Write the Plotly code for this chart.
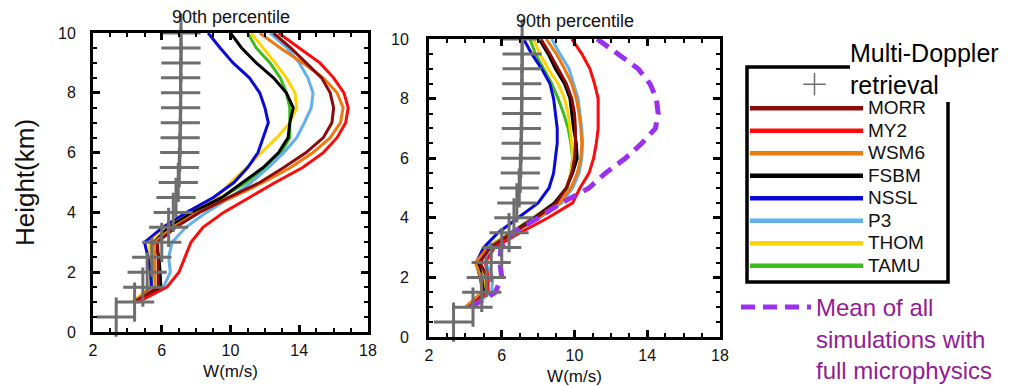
import plotly.graph_objects as go

# ---------------- data ----------------
heights_obs = [0.5, 1.0, 1.5, 2.0, 2.5, 3.0, 3.5, 4.0, 4.5, 5.0,
               5.5, 6.0, 6.5, 7.0, 7.5, 8.0, 8.5, 9.0, 9.5, 10.0]
w_obs = [3.35, 4.42, 4.9, 5.15, 5.42, 6.0, 6.4, 6.67, 6.83, 6.96,
         7.02, 7.05, 7.07, 7.08, 7.1, 7.1, 7.1, 7.12, 7.12, 7.12]

heights_sim = [1.0, 1.5, 2.0, 2.5, 3.0, 3.5, 4.0, 4.5, 5.0, 5.5,
               6.0, 6.5, 7.0, 7.5, 8.0, 8.5, 9.0, 9.5, 10.0]

scheme_names = ["MORR", "MY2", "WSM6", "FSBM", "NSSL", "P3", "THOM", "TAMU"]

# left panel
left_MORR = [4.4, 5.8, 5.8, 5.8, 5.75, 6.8, 8.2, 9.9, 11.7, 13.1, 14.4, 15.4, 15.9, 16.0, 15.8, 15.3, 14.4, 13.5, 12.5]
left_MY2 = [4.6, 6.3, 7.0, 7.35, 7.7, 8.4, 9.6, 11.1, 12.6, 14.2, 15.4, 16.2, 16.7, 16.85, 16.6, 16.0, 15.2, 14.0, 12.8]
left_WSM6 = [4.3, 5.6, 5.6, 5.6, 5.6, 6.65, 8.1, 10.1, 11.9, 13.5, 14.8, 15.8, 16.4, 16.55, 16.2, 15.4, 14.2, 12.9, 11.7]
left_FSBM = [4.4, 5.95, 5.9, 5.85, 5.55, 6.4, 7.8, 9.5, 10.7, 11.9, 12.8, 13.35, 13.45, 13.65, 13.25, 12.5, 11.5, 10.65, 10.0]
left_NSSL = [4.5, 5.4, 5.35, 5.2, 5.0, 6.05, 7.45, 9.0, 10.2, 11.0, 11.6, 11.9, 12.2, 12.0, 11.7, 11.1, 10.15, 9.4, 8.7]
left_P3 = [4.5, 6.1, 6.5, 6.4, 6.6, 7.4, 8.6, 10.0, 11.2, 12.2, 13.1, 13.85, 14.3, 14.7, 14.8, 14.5, 14.0, 13.3, 12.3]
left_THOM = [4.3, 5.3, 5.35, 5.3, 5.3, 6.25, 7.6, 9.2, 10.0, 10.95, 11.8, 12.7, 13.45, 13.85, 13.75, 13.25, 12.6, 11.9, 11.2]
left_TAMU = [4.4, 5.4, 5.45, 5.45, 5.4, 6.35, 7.9, 9.5, 10.9, 12.1, 12.95, 13.45, 13.45, 13.45, 13.25, 12.9, 12.3, 11.5, 11.0]

# right panel
right_MORR = [4.2, 5.2, 5.2, 4.8, 5.35, 6.6, 7.9, 9.0, 9.55, 9.85, 10.0, 10.05, 10.05, 10.0, 9.85, 9.55, 9.1, 8.65, 8.15]
right_MY2 = [4.25, 5.25, 5.25, 5.1, 5.6, 7.0, 8.55, 9.9, 10.3, 10.8, 11.05, 11.2, 11.3, 11.3, 11.3, 11.1, 10.85, 10.4, 9.85]
right_WSM6 = [4.0, 4.9, 4.85, 4.55, 5.25, 6.65, 8.0, 9.2, 9.8, 10.15, 10.35, 10.4, 10.35, 10.25, 10.1, 9.85, 9.45, 9.0, 8.45]
right_FSBM = [4.2, 5.0, 4.9, 4.7, 5.3, 6.55, 7.8, 8.9, 9.55, 9.9, 10.15, 10.1, 9.95, 9.85, 9.75, 9.45, 8.95, 8.55, 8.05]
right_NSSL = [4.2, 5.0, 4.8, 4.6, 5.0, 5.8, 6.9, 8.0, 8.6, 8.85, 8.95, 9.05, 9.05, 8.95, 8.85, 8.65, 8.2, 7.65, 7.2]
right_P3 = [4.3, 5.45, 5.5, 5.1, 5.3, 6.7, 8.1, 9.3, 9.9, 10.25, 10.4, 10.45, 10.4, 10.3, 10.2, 9.95, 9.7, 9.2, 8.75]
right_THOM = [4.2, 5.1, 5.0, 4.7, 5.2, 6.5, 7.7, 8.9, 9.55, 9.8, 9.9, 9.85, 9.75, 9.65, 9.45, 9.1, 8.55, 8.1, 7.75]
right_TAMU = [4.2, 5.1, 5.05, 4.75, 5.2, 6.5, 7.7, 8.9, 9.6, 9.8, 9.9, 9.8, 9.65, 9.4, 9.1, 8.75, 8.3, 7.85, 7.55]
right_mean = [4.3, 5.65, 6.0, 5.9, 5.95, 6.6, 8.0, 9.3, 10.8, 11.7, 12.8, 13.7, 14.45, 14.6, 14.5, 14.15, 13.5, 12.4, 11.25]

x_ticks = [2, 6, 10, 14, 18]
y_ticks = [0, 2, 4, 6, 8, 10]

# ---------------- styles ----------------
colors = {"MORR": "#8b0a0a", "MY2": "#ff0a0a", "WSM6": "#ee7a0e", "FSBM": "#000000",
          "NSSL": "#0a0ad8", "P3": "#62b0ec", "THOM": "#ffd200", "TAMU": "#3cbd1c"}
obs_color = "#6e6e6e"
mean_color = "#9b30f0"
mean_text_color = "#951a95"
FONT = "Liberation Sans, Arial, Helvetica, sans-serif"

left = {"MORR": left_MORR, "MY2": left_MY2, "WSM6": left_WSM6, "FSBM": left_FSBM,
        "NSSL": left_NSSL, "P3": left_P3, "THOM": left_THOM, "TAMU": left_TAMU}
right = {"MORR": right_MORR, "MY2": right_MY2, "WSM6": right_WSM6, "FSBM": right_FSBM,
         "NSSL": right_NSSL, "P3": right_P3, "THOM": right_THOM, "TAMU": right_TAMU}

fig = go.Figure()

# legend-only sample for the retrieval
fig.add_trace(go.Scatter(x=[None], y=[None], mode="markers", name="Multi-Doppler<br>retrieval",
                         marker=dict(symbol="cross-thin", size=30, line=dict(width=1.5, color=obs_color)),
                         legend="legend3", showlegend=True))

draw_order = ["TAMU", "THOM", "P3", "NSSL", "FSBM", "WSM6", "MORR", "MY2"]
for name in draw_order:
    fig.add_trace(go.Scatter(x=left[name], y=heights_sim, mode="lines", name=name,
                             line=dict(color=colors[name], width=3),
                             xaxis="x", yaxis="y", showlegend=False))
for name in draw_order:
    fig.add_trace(go.Scatter(x=right[name], y=heights_sim, mode="lines", name=name,
                             line=dict(color=colors[name], width=3),
                             xaxis="x2", yaxis="y2", showlegend=False))

# legend entries in the published order
for name in scheme_names:
    fig.add_trace(go.Scatter(x=[None], y=[None], mode="lines",
                             name=f'<span style="font-size:19px">{name}</span>',
                             line=dict(color=colors[name], width=4.5), legend="legend"))

fig.add_trace(go.Scatter(x=right_mean, y=heights_sim, mode="lines",
                         name="Mean of all<br>simulations with<br>full microphysics",
                         line=dict(color=mean_color, width=5, dash="14px,8px"),
                         xaxis="x2", yaxis="y2", legend="legend2"))

for xa, ya in [("x", "y"), ("x2", "y2")]:
    fig.add_trace(go.Scatter(x=w_obs, y=heights_obs, mode="markers", name="Multi-Doppler retrieval",
                             marker=dict(symbol="cross-thin", size=28,
                                         line=dict(width=3, color=obs_color)),
                             cliponaxis=False, xaxis=xa, yaxis=ya, showlegend=False))

W, H = 1023, 386

def xax(x0, x1):
    return dict(domain=[x0 / W, x1 / W], range=[2, 18], tickvals=x_ticks, automargin=False,
                ticks="inside", ticklen=7, tickwidth=3, tickcolor="black",
                minor=dict(dtick=1, tick0=2, ticks="inside", ticklen=4, tickwidth=1.5, tickcolor="black"),
                showline=True, linewidth=3, linecolor="black", mirror="ticks",
                showgrid=False, zeroline=False, ticklabelstandoff=2,
                tickfont=dict(family=FONT, size=16, color="#111"),
                title=dict(text="W(m/s)", font=dict(family=FONT, size=17, color="#111"), standoff=7))

def yax(y0, y1, anchor):
    return dict(domain=[1 - y1 / H, 1 - y0 / H], range=[0, 10], tickvals=y_ticks, anchor=anchor,
                automargin=False,
                ticks="inside", ticklen=7, tickwidth=3, tickcolor="black",
                minor=dict(dtick=0.5, tick0=0, ticks="inside", ticklen=4, tickwidth=1.5, tickcolor="black"),
                showline=True, linewidth=3, linecolor="black", mirror="ticks",
                showgrid=False, zeroline=False, ticklabelstandoff=11,
                tickfont=dict(family=FONT, size=16, color="#111"))

ya1 = yax(33, 332, "x")
ya1["title"] = dict(text="Height(km)", font=dict(family=FONT, size=26, color="#111"), standoff=16)
ya2 = yax(39, 337, "x2")
ya2["ticklabelstandoff"] = 14

fig.update_layout(
    width=W, height=H, margin=dict(l=0, r=0, t=0, b=0, autoexpand=False),
    paper_bgcolor="white", plot_bgcolor="white",
    xaxis=dict(xax(93, 368), anchor="y"),
    yaxis=ya1,
    xaxis2=dict(xax(429, 720), anchor="y2"),
    yaxis2=ya2,
    legend=dict(x=745 / W, y=1 - 92 / H, xanchor="left", yanchor="top", xref="container", yref="container",
                font=dict(family=FONT, size=15, color="#111"), itemwidth=113,
                tracegroupgap=0, bgcolor="rgba(0,0,0,0)", borderwidth=0),
    legend2=dict(x=736 / W, y=1 - 285 / H, xanchor="left", yanchor="top", xref="container", yref="container",
                 font=dict(family=FONT, size=24, color=mean_text_color), itemwidth=70,
                 valign="top", bgcolor="rgba(0,0,0,0)", borderwidth=0),
    legend3=dict(x=779 / W, y=1 - 29 / H, xanchor="left", yanchor="top", xref="container", yref="container",
                 font=dict(family=FONT, size=25, color="#000"), itemwidth=61,
                 valign="bottom", bgcolor="rgba(0,0,0,0)", borderwidth=0),
    annotations=[
        dict(text="90th percentile", xref="x domain", yref="paper", x=0.5, y=1 - 17 / H,
             showarrow=False, font=dict(family=FONT, size=18, color="#111"), yanchor="middle"),
        dict(text="90th percentile", xref="x2 domain", yref="paper", x=0.5, y=1 - 21 / H,
             showarrow=False, font=dict(family=FONT, size=18, color="#111"), yanchor="middle"),
    ],
    shapes=[
        dict(type="path", xref="paper", yref="paper", layer="below",
             path=f"M {850 / W},{1 - 67 / H} L {747 / W},{1 - 67 / H} L {747 / W},{1 - 282 / H} "
                  f"L {948 / W},{1 - 282 / H} L {948 / W},{1 - 102 / H}",
             line=dict(color="black", width=3.5)),
    ],
)

fig.write_html("out.html", config={"displayModeBar": False},
               post_script="document.body.style.margin='0px';")
